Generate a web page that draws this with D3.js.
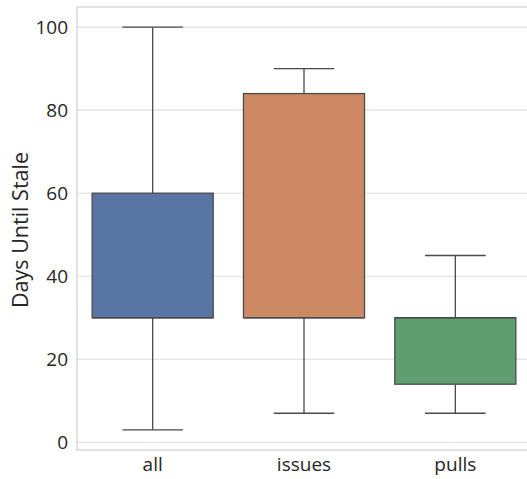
<!DOCTYPE html>
<html>
<head>
<meta charset="utf-8">
<script src="https://cdn.jsdelivr.net/npm/d3@7"></script>
<style>
  body { margin: 0; background: #fff; }
  svg { display: block; font-family: "Open Sans", sans-serif; }
</style>
</head>
<body>
<svg id="chart" width="527" height="479"></svg>
<script>
// box stats
var categories = ['all', 'issues', 'pulls'];
var whiskerLow = [3, 7, 7];
var q1 = [30, 30, 14];
var median = [30, 30, 30];
var q3 = [60, 84, 30];
var whiskerHigh = [100, 90, 45];
var yTicks = [0, 20, 40, 60, 80, 100];
var colors = ['#5875a4', '#cc8963', '#5f9e6e'];

var svg = d3.select('#chart');

var plotLeft = 77, plotTop = 7, plotBottom = 450, plotRight = 531;

var x = d3.scaleBand()
    .domain(categories)
    .range([plotLeft, plotRight])
    .paddingInner(0)
    .paddingOuter(0);

var y = d3.scaleLinear()
    .domain([-1.85, 104.85])
    .range([plotBottom, plotTop]);

var boxes = categories.map(function (c, i) {
    return {name: c, lo: whiskerLow[i], q1: q1[i], med: median[i], q3: q3[i], hi: whiskerHigh[i], color: colors[i]};
});

// grid
svg.append('g')
    .selectAll('line')
    .data(yTicks)
    .enter().append('line')
    .attr('x1', plotLeft)
    .attr('x2', plotRight)
    .attr('y1', function (d) { return y(d); })
    .attr('y2', function (d) { return y(d); })
    .attr('stroke', '#dedede')
    .attr('stroke-width', 1.1);

// frame
svg.append('rect')
    .attr('x', plotLeft)
    .attr('y', plotTop)
    .attr('width', plotRight - plotLeft)
    .attr('height', plotBottom - plotTop)
    .attr('fill', 'none')
    .attr('stroke', '#d0d0d0')
    .attr('stroke-width', 1.2);

// y axis labels
var yAxis = d3.axisLeft(y).tickValues(yTicks).tickSize(0).tickPadding(9);
var gy = svg.append('g')
    .attr('transform', 'translate(' + plotLeft + ',0)')
    .call(yAxis);
gy.select('.domain').remove();
gy.selectAll('text')
    .attr('font-size', 19)
    .attr('fill', '#262626')
    .style('font-family', '"Open Sans", sans-serif');

// x axis labels
var xAxis = d3.axisBottom(x).tickSize(0).tickPadding(8);
var gx = svg.append('g')
    .attr('transform', 'translate(0,' + plotBottom + ')')
    .call(xAxis);
gx.select('.domain').remove();
gx.selectAll('text')
    .attr('font-size', 19)
    .attr('fill', '#262626')
    .style('font-family', '"Open Sans", sans-serif');

// y title
svg.append('text')
    .attr('transform', 'translate(28,230) rotate(-90)')
    .attr('text-anchor', 'middle')
    .attr('font-size', 21.5)
    .attr('fill', '#262626')
    .text('Days Until Stale');

// boxes
var lineColor = '#4a4a4a';
var bw = x.bandwidth() * 0.8;
var g = svg.append('g')
    .selectAll('g')
    .data(boxes)
    .enter().append('g');

g.append('line')
    .attr('x1', function (d) { return x(d.name) + x.bandwidth() / 2; })
    .attr('x2', function (d) { return x(d.name) + x.bandwidth() / 2; })
    .attr('y1', function (d) { return y(d.q3); })
    .attr('y2', function (d) { return y(d.hi); })
    .attr('stroke', lineColor)
    .attr('stroke-width', 1.3);

g.append('line')
    .attr('x1', function (d) { return x(d.name) + x.bandwidth() / 2; })
    .attr('x2', function (d) { return x(d.name) + x.bandwidth() / 2; })
    .attr('y1', function (d) { return y(d.q1); })
    .attr('y2', function (d) { return y(d.lo); })
    .attr('stroke', lineColor)
    .attr('stroke-width', 1.3);

['hi', 'lo'].forEach(function (k) {
    g.append('line')
        .attr('x1', function (d) { return x(d.name) + x.bandwidth() / 2 - bw / 4; })
        .attr('x2', function (d) { return x(d.name) + x.bandwidth() / 2 + bw / 4; })
        .attr('y1', function (d) { return y(d[k]); })
        .attr('y2', function (d) { return y(d[k]); })
        .attr('stroke', lineColor)
        .attr('stroke-width', 1.3);
});

g.append('rect')
    .attr('x', function (d) { return x(d.name) + (x.bandwidth() - bw) / 2; })
    .attr('width', bw)
    .attr('y', function (d) { return y(d.q3); })
    .attr('height', function (d) { return y(d.q1) - y(d.q3); })
    .attr('fill', function (d) { return d.color; })
    .attr('stroke', lineColor)
    .attr('stroke-width', 1.3);

g.append('line')
    .attr('x1', function (d) { return x(d.name) + (x.bandwidth() - bw) / 2; })
    .attr('x2', function (d) { return x(d.name) + (x.bandwidth() + bw) / 2; })
    .attr('y1', function (d) { return y(d.med); })
    .attr('y2', function (d) { return y(d.med); })
    .attr('stroke', lineColor)
    .attr('stroke-width', 1.3);
</script>
</body>
</html>
